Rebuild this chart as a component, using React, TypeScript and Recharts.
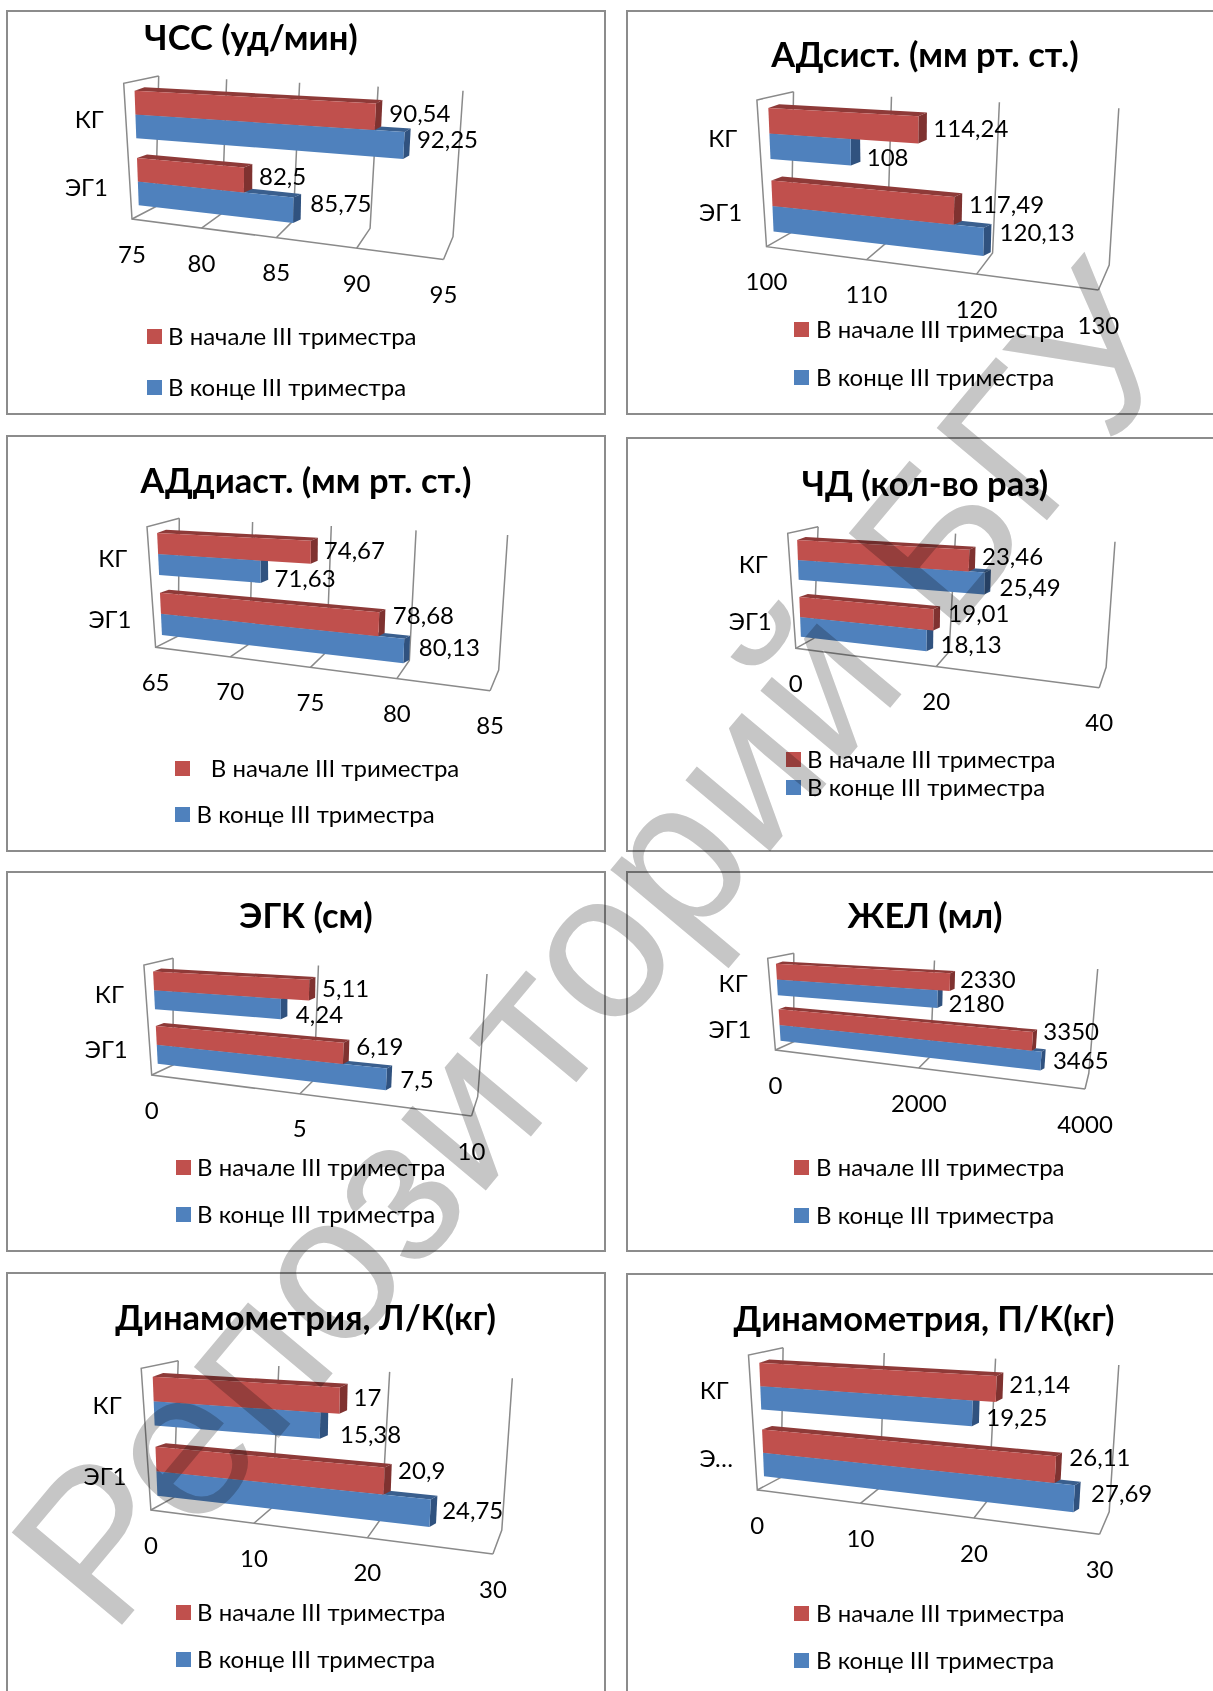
import { BarChart, Bar, XAxis, YAxis, CartesianGrid, Legend, LabelList } from "recharts";

type Pt = [number, number];

const seriesNames = ["В начале III триместра", "В конце III триместра"];
const categories = ["ЭГ1", "КГ"];
const categoriesCut = ["Э…", "КГ"];

// values per category, in the order of `categories`
const hrStart = [82.5, 90.54];
const hrEnd = [85.75, 92.25];
const hrTicks = [75, 80, 85, 90, 95];

const sysStart = [117.49, 114.24];
const sysEnd = [120.13, 108];
const sysTicks = [100, 110, 120, 130];

const diaStart = [78.68, 74.67];
const diaEnd = [80.13, 71.63];
const diaTicks = [65, 70, 75, 80, 85];

const rrStart = [19.01, 23.46];
const rrEnd = [18.13, 25.49];
const rrTicks = [0, 20, 40];

const ecgStart = [6.19, 5.11];
const ecgEnd = [7.5, 4.24];
const ecgTicks = [0, 5, 10];

const vcStart = [3350, 2330];
const vcEnd = [3465, 2180];
const vcTicks = [0, 2000, 4000];

const leftStart = [20.9, 17];
const leftEnd = [24.75, 15.38];
const leftTicks = [0, 10, 20, 30];

const rightStart = [26.11, 21.14];
const rightEnd = [27.69, 19.25];
const rightTicks = [0, 10, 20, 30];

const RED = { front: "#C0504D", top: "#8E3A38", side: "#7F3230" };
const BLUE = { front: "#4F81BD", top: "#3A5F8E", side: "#30527F" };
const WALL = "#8A8A8A";
const FONT = "Lato, 'Open Sans', sans-serif";
const M = 40; // nominal plot margin, the flat plot is warped onto the 3D frame

type Panel = {
  title: string;
  names: string[];
  start: number[];
  end: number[];
  ticks: number[];
  box: [number, number, number, number];
  // corners of the 3D frame: front bottom L/R, back bottom L/R, back top L/R, front top L
  A: Pt; B: Pt; C: Pt; D: Pt; E: Pt; F: Pt; G: Pt;
  titleAt: Pt;
  swatchX: number;
  textX: [number, number];
  rowY: [number, number];
  // value label offsets from the bar end, one per category
  startOff: [Pt, Pt];
  endOff: [Pt, Pt];
};

const panels: Panel[] = [
  {
    title: "ЧСС (уд/мин)", names: categories, start: hrStart, end: hrEnd, ticks: hrTicks,
    box: [7, 11, 605, 414],
    A: [132, 219], B: [443.5, 259.5], C: [155.6, 206.7], D: [453, 236.7], E: [158.7, 76], F: [463, 90.7], G: [123.7, 83.3],
    titleAt: [251, 36], swatchX: 147, textX: [168, 168], rowY: [336, 387],
    startOff: [[15, -4], [14, -4]], endOff: [[17, -8], [13, -7]],
  },
  {
    title: "АДсист. (мм рт. ст.)", names: categories, start: sysStart, end: sysEnd, ticks: sysTicks,
    box: [627, 11, 1240, 414],
    A: [766.5, 246.7], B: [1098.4, 290], C: [791.5, 232.3], D: [1109.2, 265], E: [793.5, 91.7], F: [1118.8, 108.3], G: [756.9, 100],
    titleAt: [925, 52.5], swatchX: 794, textX: [816, 816], rowY: [329, 377],
    startOff: [[15, -7], [15, -2]], endOff: [[16, -10], [16, 4]],
  },
  {
    title: "АДдиаст. (мм рт. ст.)", names: categories, start: diaStart, end: diaEnd, ticks: diaTicks,
    box: [7, 436, 605, 851],
    A: [155.6, 647.3], B: [490.1, 690.7], C: [178.2, 636], D: [498.7, 670], E: [179.3, 518.3], F: [507.6, 535], G: [147, 526.7],
    titleAt: [306, 479], swatchX: 175, textX: [210.8, 196.5], rowY: [768, 814],
    startOff: [[14, -9.5], [13, -3]], endOff: [[15, -4], [14, 6]],
  },
  {
    title: "ЧД (кол-во раз)", names: categories, start: rrStart, end: rrEnd, ticks: rrTicks,
    box: [627, 438, 1240, 851],
    A: [795.8, 648.3], B: [1099.2, 687.7], C: [813.8, 638.3], D: [1106.1, 667.3], E: [818.1, 526.7], F: [1115, 541.7], G: [787.7, 533.3],
    titleAt: [925, 481.5], swatchX: 786, textX: [807, 807], rowY: [758.5, 786.5],
    startOff: [[15, -7], [13, -5]], endOff: [[14, 3], [15, 3]],
  },
  {
    title: "ЭГК (см)", names: categories, start: ecgStart, end: ecgEnd, ticks: ecgTicks,
    box: [7, 872, 605, 1251],
    A: [151.7, 1075], B: [471.5, 1116], C: [173.1, 1065], D: [477.7, 1096.7], E: [173.1, 958.3], F: [487, 974], G: [143.9, 965],
    titleAt: [306, 913.5], swatchX: 175.8, textX: [197, 197], rowY: [1166.5, 1214],
    startOff: [[13, -8], [13, -3]], endOff: [[14, -0.5], [15, 5]],
  },
  {
    title: "ЖЕЛ (мл)", names: categories, start: vcStart, end: vcEnd, ticks: vcTicks,
    box: [627, 872, 1240, 1251],
    A: [775.4, 1050], B: [1085, 1089], C: [793.8, 1041.7], D: [1088.8, 1073.3], E: [793.8, 953.3], F: [1097.7, 969], G: [767.7, 958.3],
    titleAt: [925, 913.5], swatchX: 794, textX: [816, 816], rowY: [1166.5, 1214.7],
    startOff: [[11, -10.5], [10, -4]], endOff: [[12, -1.6], [11, 3]],
  },
  {
    title: "Динамометрия, Л/К(кг)", names: categories, start: leftStart, end: leftEnd, ticks: leftTicks,
    box: [7, 1273, 605, 1720],
    A: [150.9, 1510], B: [492.9, 1554], C: [173.9, 1497.3], D: [501.8, 1530], E: [178.2, 1360.7], F: [512.3, 1378.3], G: [141.2, 1368.3],
    titleAt: [305.6, 1316], swatchX: 175.8, textX: [197, 197], rowY: [1611.5, 1659],
    startOff: [[14, -11.6], [14, -4]], endOff: [[12, -4], [20, 8]],
  },
  {
    title: "Динамометрия, П/К(кг)", names: categoriesCut, start: rightStart, end: rightEnd, ticks: rightTicks,
    box: [627, 1274, 1240, 1720],
    A: [757.3, 1490], B: [1099.6, 1534.3], C: [781.1, 1477.3], D: [1109.2, 1511.7], E: [783.1, 1347.7], F: [1118.8, 1365], G: [748.5, 1355],
    titleAt: [924, 1316.5], swatchX: 794, textX: [816, 816], rowY: [1612.5, 1660],
    startOff: [[14, -13], [13, -6]], endOff: [[17, -6], [14, 3]],
  },
];

const lerp = (a: number, b: number, t: number) => a + (b - a) * t;
const mix = (p: Pt, q: Pt, t: number): Pt => [lerp(p[0], q[0], t), lerp(p[1], q[1], t)];
const poly = (pts: Pt[]) => pts.map((p) => p.join(",")).join(" ");

// u along the value axis, v top to bottom, d from back wall (0) to front edge (1)
function makeProjector(panel: Panel) {
  const { A, B, C, D, E, F, G, box } = panel;
  const H: Pt = [B[0] + (F[0] - D[0]) * 1.1, B[1] + (F[1] - D[1]) * 1.1];
  return (u: number, v: number, d: number): Pt => {
    const w = u / (1 + 0.16 * (1 - u)); // foreshortening towards the far end
    const back = mix(mix(E, F, w), mix(C, D, w), v);
    const front = mix(mix(G, H, w), mix(A, B, w), v);
    const p = mix(back, front, d);
    return [p[0] - box[0], p[1] - box[1]];
  };
}

function PanelChart({ panel }: { panel: Panel }) {
  const [l, t, r, b] = panel.box;
  const W = r - l;
  const H = b - t;
  const plotW = W - 2 * M;
  const plotH = H - 2 * M;
  const project = makeProjector(panel);
  const BAR_D = 0.7;
  const scale = (panel.A[1] - panel.G[1]) / 136;

  const toU = (x: number) => (x - M) / plotW;
  const toV = (y: number) => 1 - (y - M) / plotH; // the flat plot is flipped so red paints over blue

  const rows = panel.names.map((name, i) => ({ name, start: panel.start[i], end: panel.end[i] }));

  const renderWall = (p: any) => {
    const u = toU(p.x1);
    const front = project(u, 1, 1);
    const back = project(u, 1, 0);
    const top = project(u, 0, 0);
    const first = u < 0.001;
    return (
      <g key={p.key ?? p.index}>
        <polyline points={poly([front, back, top])} fill="none" stroke={WALL} strokeWidth={1.5} />
        {first && (
          <polyline
            points={poly([project(1, 1, 1), front, project(0, 0, 1), top])}
            fill="none"
            stroke={WALL}
            strokeWidth={1.5}
          />
        )}
      </g>
    );
  };

  const renderBar = (colors: typeof RED) => (p: any) => {
    const u0 = toU(p.x);
    const u1 = toU(p.x + p.width);
    const vT = toV(p.y + p.height);
    const vB = toV(p.y);
    const off = (u: number, q: Pt): Pt => [q[0] + lerp(10, 5.5, u) * scale, q[1] - 3.5 * scale];
    const tl = project(u0, vT, BAR_D);
    const tr = project(u1, vT, BAR_D);
    const br = project(u1, vB, BAR_D);
    const bl = project(u0, vB, BAR_D);
    return (
      <g>
        <polygon points={poly([tl, tr, off(u1, tr), off(u0, tl)])} fill={colors.top} />
        <polygon points={poly([tr, br, off(u1, br), off(u1, tr)])} fill={colors.side} />
        <polygon points={poly([tl, tr, br, bl])} fill={colors.front} />
      </g>
    );
  };

  const renderValue = (offsets: [Pt, Pt]) => (p: any) => {
    const box = p.viewBox && p.viewBox.width !== undefined ? p.viewBox : p;
    const u1 = toU(box.x + box.width);
    const vMid = toV(box.y + box.height / 2);
    const [x, y] = project(u1, vMid, BAR_D);
    const [dx, dy] = offsets[p.index];
    return (
      <text x={x + dx} y={y + dy} dominantBaseline="central" fontSize={24} fontFamily={FONT} fill="#000">
        {String(p.value).replace(".", ",")}
      </text>
    );
  };

  const renderTick = (p: any) => {
    const [x, y] = project(toU(p.x), 1, 1);
    return (
      <text x={x} y={y + 34} textAnchor="middle" dominantBaseline="central" fontSize={24} fontFamily={FONT} fill="#000">
        {p.payload.value}
      </text>
    );
  };

  const renderCategory = (p: any) => {
    const [x, y] = project(0, toV(p.y), 1);
    return (
      <text x={x - 22} y={y + 1} textAnchor="end" dominantBaseline="central" fontSize={24} fontFamily={FONT} fill="#000">
        {p.payload.value}
      </text>
    );
  };

  const renderLegend = ({ payload }: any) => (
    <div>
      {seriesNames.map((name, i) => {
        const item = (payload || []).find((e: any) => e.value === name);
        return (
          <div key={name}>
            <div
              style={{
                position: "absolute",
                left: panel.swatchX - l,
                top: panel.rowY[i] - t - 7,
                width: 15,
                height: 15,
                background: item ? item.color : "#000",
              }}
            />
            <div
              style={{
                position: "absolute",
                left: panel.textX[i] - l,
                top: panel.rowY[i] - t - 16,
                height: 32,
                lineHeight: "32px",
                fontSize: 24,
                fontFamily: FONT,
                color: "#000",
                whiteSpace: "nowrap",
              }}
            >
              {name}
            </div>
          </div>
        );
      })}
    </div>
  );

  return (
    <div
      style={{
        position: "absolute",
        left: l,
        top: t,
        width: W,
        height: H,
        boxSizing: "border-box",
        outline: "2px solid #8C8C8C",
        outlineOffset: -1,
        background: "#fff",
      }}
    >
      <div
        style={{
          position: "absolute",
          left: panel.titleAt[0] - l,
          top: panel.titleAt[1] - t,
          transform: "translate(-50%, -50%)",
          fontFamily: FONT,
          fontWeight: 700,
          fontSize: 34.5,
          whiteSpace: "nowrap",
          color: "#000",
        }}
      >
        {panel.title}
      </div>
      <div style={{ position: "absolute", left: 0, top: 0 }}>
        <BarChart
          width={W}
          height={H}
          data={rows}
          layout="vertical"
          margin={{ top: M, right: M, bottom: M - 1, left: M - 1 }}
          barCategoryGap="15%"
          barGap={0}
        >
          <CartesianGrid horizontal={false} vertical={renderWall} />
          <XAxis
            type="number"
            domain={[panel.ticks[0], panel.ticks[panel.ticks.length - 1]]}
            ticks={panel.ticks}
            height={1}
            axisLine={false}
            tickLine={false}
            interval={0}
            tick={renderTick}
          />
          <YAxis type="category" dataKey="name" width={1} axisLine={false} tickLine={false} tick={renderCategory} />
          <Legend content={renderLegend} wrapperStyle={{ left: 0, top: 0, bottom: "auto", height: 0 }} />
          {/* far series first, the near one paints over its top face */}
          <Bar dataKey="end" name={seriesNames[1]} fill={BLUE.front} isAnimationActive={false} shape={renderBar(BLUE)}>
            <LabelList dataKey="end" content={renderValue(panel.endOff)} />
          </Bar>
          <Bar dataKey="start" name={seriesNames[0]} fill={RED.front} isAnimationActive={false} shape={renderBar(RED)}>
            <LabelList dataKey="start" content={renderValue(panel.startOff)} />
          </Bar>
        </BarChart>
      </div>
    </div>
  );
}

export default function App() {
  return (
    <div style={{ position: "absolute", left: 0, top: 0, width: 1213, height: 1691, overflow: "hidden", background: "#fff" }}>
      {panels.map((p) => (
        <PanelChart key={p.title} panel={p} />
      ))}
      <svg
        width={1213}
        height={1691}
        style={{ position: "absolute", left: 0, top: 0, mixBlendMode: "multiply", pointerEvents: "none" }}
      >
        <text
          transform="translate(111 1638) rotate(-50.05)"
          fontFamily="'Liberation Sans', Arial, sans-serif"
          fontSize={209}
          fill="#C6C6C6"
        >
          Репозиторий БГУ
        </text>
      </svg>
    </div>
  );
}
